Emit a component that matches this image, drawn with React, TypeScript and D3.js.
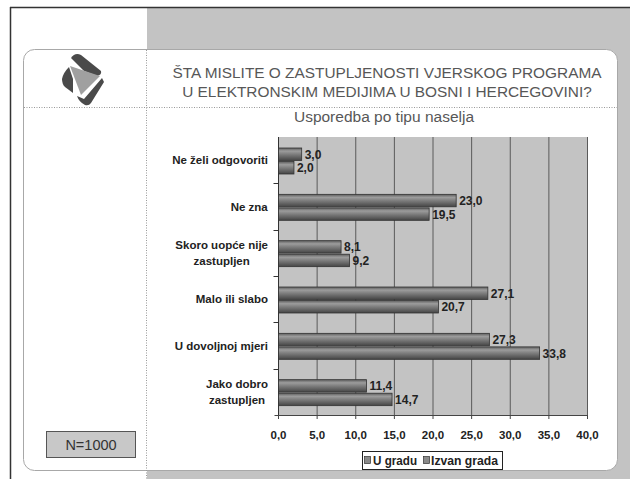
import React, { useEffect, useRef } from "react";
import * as d3 from "d3";

const categories = [
  "Ne želi odgovoriti",
  "Ne zna",
  "Skoro uopće nije\nzastupljen",
  "Malo ili slabo",
  "U dovoljnoj mjeri",
  "Jako dobro\nzastupljen",
];
const seriesNames = ["U gradu", "Izvan grada"];
const uGradu = [3.0, 23.0, 8.1, 27.1, 27.3, 11.4];
const izvanGrada = [2.0, 19.5, 9.2, 20.7, 33.8, 14.7];
const xTicks = [0, 5, 10, 15, 20, 25, 30, 35, 40];
const titleLines = [
  "ŠTA MISLITE O ZASTUPLJENOSTI VJERSKOG PROGRAMA",
  "U ELEKTRONSKIM MEDIJIMA U BOSNI I HERCEGOVINI?",
];
const subtitle = "Usporedba po tipu naselja";
const nLabel = "N=1000";

const W = 630;
const H = 479;
const FONT = "Arial, 'Liberation Sans', sans-serif";

export default function App() {
  const ref = useRef<SVGSVGElement>(null);

  useEffect(() => {
    const svg = d3.select(ref.current);
    svg.selectAll("*").remove();

    const defs = svg.append("defs");
    const grad = defs
      .append("linearGradient")
      .attr("id", "barGrad")
      .attr("x1", 0)
      .attr("y1", 0)
      .attr("x2", 0)
      .attr("y2", 1);
    [
      [0, "#5e5e5e"],
      [0.25, "#9c9c9c"],
      [0.5, "#7e7e7e"],
      [1, "#454545"],
    ].forEach(([o, c]) => grad.append("stop").attr("offset", o as number).attr("stop-color", c as string));

    // Frame & backgrounds
    svg.append("rect").attr("x", 0).attr("y", 0).attr("width", W).attr("height", H).attr("fill", "#fff");
    svg.append("rect").attr("x", 147).attr("y", 8).attr("width", W - 147).attr("height", H - 8).attr("fill", "#c3c3c3");
    svg.append("line").attr("x1", 10).attr("x2", W).attr("y1", 7.5).attr("y2", 7.5).attr("stroke", "#333").attr("stroke-width", 1.5);
    svg.append("line").attr("x1", 10.5).attr("x2", 10.5).attr("y1", 7).attr("y2", H).attr("stroke", "#333").attr("stroke-width", 1.5);

    // panel
    svg
      .append("rect")
      .attr("x", 23.5)
      .attr("y", 49.5)
      .attr("width", 594)
      .attr("height", 421)
      .attr("rx", 11)
      .attr("fill", "#fff")
      .attr("stroke", "#a8a8a8")
      .attr("stroke-width", 1);
    svg.append("line").attr("x1", 146.5).attr("x2", 146.5).attr("y1", 50).attr("y2", 479).attr("stroke", "#999").attr("stroke-dasharray", "1,1.5");
    svg.append("line").attr("x1", 24).attr("x2", 617).attr("y1", 107.5).attr("y2", 107.5).attr("stroke", "#999").attr("stroke-dasharray", "1,1.5");

    // Logo
    const logo = svg.append("g");
    logo.append("path").attr("d", "M71,58 Q75,52 81,55 L101,71 Q102,75 97,76 L84,71 Z").attr("fill", "#4a4a4a");
    logo.append("path").attr("d", "M70,66 L100,76 L81,95 Z").attr("fill", "#a0a0a0");
    logo.append("path").attr("d", "M69,67 Q63,73 62,79 Q62,84 65,87 L73,93 L73,79 Z").attr("fill", "#4a4a4a");
    logo.append("path").attr("d", "M102,78 L84,99 L77,96 Q79,102 85,105 Q89,106 91,103 L104,82 Z").attr("fill", "#4a4a4a");

    // Titles
    titleLines.forEach((t, i) => {
      svg
        .append("text")
        .attr("x", 387)
        .attr("y", 77.5 + i * 19)
        .attr("text-anchor", "middle")
        .attr("font-family", FONT)
        .attr("font-size", 15.4)
        .attr("fill", "#575757")
        .text(t);
    });
    svg
      .append("text")
      .attr("x", 384)
      .attr("y", 121.5)
      .attr("text-anchor", "middle")
      .attr("font-family", FONT)
      .attr("font-size", 15.5)
      .attr("fill", "#575757")
      .text(subtitle);

    // N box
    svg.append("rect").attr("x", 46.5).attr("y", 431.5).attr("width", 89).attr("height", 26).attr("fill", "#c8c8c8").attr("stroke", "#555");
    svg
      .append("text")
      .attr("x", 91)
      .attr("y", 450)
      .attr("text-anchor", "middle")
      .attr("font-family", FONT)
      .attr("font-size", 14.5)
      .attr("fill", "#333")
      .text(nLabel);

    // Chart
    const left = 278.5,
      right = 587.5,
      top = 137,
      bottom = 415;
    const x = d3.scaleLinear().domain([0, 40]).range([left, right]);
    const y = d3.scaleBand<number>().domain(d3.range(categories.length)).range([top, bottom]);
    const inner = d3.scaleBand<number>().domain([0, 1]).range([11, 37]).paddingInner(0.08);

    svg.append("rect").attr("x", left).attr("y", top).attr("width", right - left).attr("height", bottom - top).attr("fill", "#c3c3c3");

    xTicks.forEach((t) => {
      if (t > 0)
        svg.append("line").attr("x1", x(t)).attr("x2", x(t)).attr("y1", top).attr("y2", bottom).attr("stroke", "#5a5a5a").attr("stroke-width", 1);
      svg.append("line").attr("x1", x(t)).attr("x2", x(t)).attr("y1", bottom).attr("y2", bottom + 4).attr("stroke", "#444");
      svg
        .append("text")
        .attr("x", x(t))
        .attr("y", bottom + 24)
        .attr("text-anchor", "middle")
        .attr("font-family", FONT)
        .attr("font-weight", "bold")
        .attr("font-size", 11.5)
        .attr("fill", "#222")
        .text(d3.format(".1f")(t).replace(".", ","));
    });

    svg.append("line").attr("x1", left).attr("x2", left).attr("y1", top).attr("y2", bottom).attr("stroke", "#333");
    svg.append("line").attr("x1", left - 4).attr("x2", right).attr("y1", bottom + 0.5).attr("y2", bottom + 0.5).attr("stroke", "#444");
    for (let i = 1; i < categories.length; i++) {
      const yy = Math.round(y(i)!) + 0.5;
      svg.append("line").attr("x1", left - 5).attr("x2", left).attr("y1", yy).attr("y2", yy).attr("stroke", "#333");
    }

    const series = [uGradu, izvanGrada];
    categories.forEach((c, i) => {
      const by = y(i)!;
      series.forEach((vals, s) => {
        const yy = by + inner(s)!;
        const h = inner.bandwidth();
        svg
          .append("rect")
          .attr("x", left)
          .attr("y", yy)
          .attr("width", x(vals[i]) - left)
          .attr("height", h)
          .attr("fill", "url(#barGrad)")
          .attr("stroke", "#333")
          .attr("stroke-width", 0.8);
        svg
          .append("text")
          .attr("x", x(vals[i]) + 3)
          .attr("y", yy + h / 2 + 4.5)
          .attr("font-family", FONT)
          .attr("font-weight", "bold")
          .attr("font-size", 12)
          .attr("fill", "#222")
          .text(d3.format(".1f")(vals[i]).replace(".", ","));
      });

      const lines = c.split("\n");
      const g = svg.append("g");
      const cy = by + y.bandwidth() / 2;
      const t = g
        .append("text")
        .attr("text-anchor", "middle")
        .attr("font-family", FONT)
        .attr("font-weight", "bold")
        .attr("font-size", 11.5)
        .attr("fill", "#222");
      lines.forEach((ln, k) => {
        t.append("tspan")
          .attr("x", 0)
          .attr("y", cy + 4 + (k - (lines.length - 1) / 2) * 16)
          .text(ln);
      });
      const bb = (t.node() as SVGTextElement).getBBox();
      g.attr("transform", `translate(${268 - bb.width / 2},0)`);
    });

    // legend
    const lg = svg.append("g");
    lg.append("rect").attr("x", 362.5).attr("y", 451.5).attr("width", 140).attr("height", 18).attr("fill", "#fff").attr("stroke", "#222");
    const items = [
      { sx: 364, tx: 373, tl: 44 },
      { sx: 423, tx: 431, tl: 67 },
    ];
    seriesNames.forEach((n, k) => {
      const it = items[k];
      lg.append("rect").attr("x", it.sx + 0.5).attr("y", 456.5).attr("width", 6).attr("height", 7).attr("fill", "#8a8a8a").attr("stroke", "#333").attr("stroke-width", 0.7);
      lg.append("text")
        .attr("x", it.tx)
        .attr("y", 465)
        .attr("font-family", FONT)
        .attr("font-weight", "bold")
        .attr("font-size", 12.5)
        .attr("fill", "#222")
        .attr("textLength", it.tl)
        .attr("lengthAdjust", "spacingAndGlyphs")
        .text(n);
    });
  }, []);

  return (
    <svg
      ref={ref}
      width={W}
      height={H}
      style={{ position: "absolute", left: 0, top: 0, display: "block" }}
    />
  );
}
